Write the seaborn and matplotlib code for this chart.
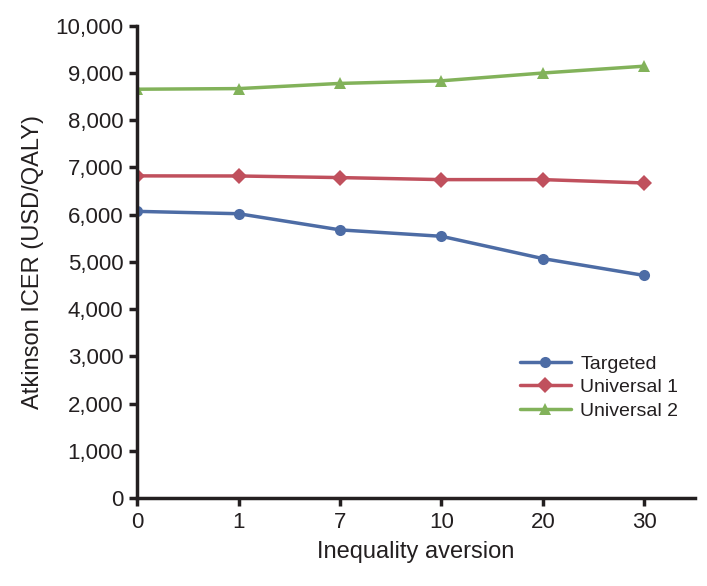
import matplotlib
matplotlib.use("Agg")
import matplotlib.pyplot as plt
import seaborn as sns
import pandas as pd
from matplotlib.ticker import FuncFormatter

categories = ["0", "1", "7", "10", "20", "30"]
targeted = [6071, 6021, 5679, 5543, 5071, 4714]
universal1 = [6822, 6820, 6786, 6743, 6743, 6672]
universal2 = [8657, 8670, 8780, 8835, 9000, 9145]
series_names = ["Targeted", "Universal 1", "Universal 2"]

rows = []
for name, vals in zip(series_names, [targeted, universal1, universal2]):
    for c, v in zip(categories, vals):
        rows.append({"Inequality aversion": c, "value": v, "series": name})
df = pd.DataFrame(rows)

sns.set_style("white")
plt.rcParams['font.family'] = ['Liberation Sans', 'DejaVu Sans']

fig = plt.figure(figsize=(7.07, 5.86), dpi=100)
ax = fig.add_axes([0.194, 0.150, 0.789, 0.806])

palette = {"Targeted": "#4D6CA5", "Universal 1": "#C0505D", "Universal 2": "#82B25A"}
markers = {"Targeted": "o", "Universal 1": "D", "Universal 2": "^"}
sns.lineplot(data=df, x="Inequality aversion", y="value", hue="series", style="series",
             palette=palette, markers=markers, dashes=False, linewidth=2.5,
             markersize=8, markeredgewidth=0, ax=ax, sort=False)

ax.set_ylim(0, 10000)
ax.set_xlim(0, 5.5)
ax.set_yticks(range(0, 10001, 1000))
ax.yaxis.set_major_formatter(FuncFormatter(lambda v, p: f"{int(v):,}"))
ax.set_xticks(range(len(categories)))
ax.set_xticklabels(categories)

for s in ["top", "right"]:
    ax.spines[s].set_visible(False)
for s in ["left", "bottom"]:
    ax.spines[s].set_color("#231F20")
    ax.spines[s].set_linewidth(2.5)
ax.tick_params(axis="both", which="major", direction="out", length=6, width=2.5,
               color="#231F20", labelsize=16, labelcolor="#231F20", pad=4)
ax.tick_params(axis="y", left=True)
ax.tick_params(axis="x", bottom=True)

ax.set_xlabel("Inequality aversion", fontsize=17, color="#231F20", labelpad=6)
ax.set_ylabel("Atkinson ICER (USD/QALY)", fontsize=17, color="#231F20", labelpad=8)

leg = ax.legend(loc="upper left", bbox_to_anchor=(0.655, 0.34), frameon=False,
                fontsize=14, handlelength=2.6, handletextpad=0.5, labelspacing=0.3,
                title=None)
for t in leg.get_texts():
    t.set_color("#231F20")

fig.savefig("out.png", dpi=100)
